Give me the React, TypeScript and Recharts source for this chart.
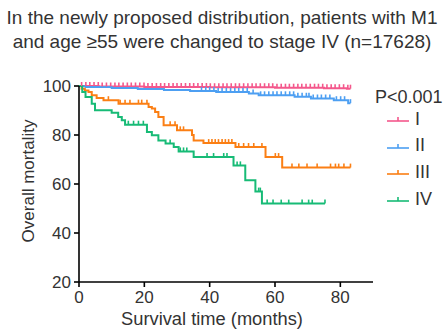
import { ComposedChart, Line, XAxis, YAxis } from 'recharts'

const X_TICKS = [0, 20, 40, 60, 80]
const Y_TICKS = [20, 40, 60, 80, 100]

// steps: [month, survival %] where the curve drops
const STEPS_I: [number, number][] = [
  [0, 100], [6, 99.8], [20, 99.6], [40, 99.5], [60, 99.3], [75, 99.1], [82, 98.9],
]
const STEPS_II: [number, number][] = [
  [0, 100], [2, 99.6], [10, 99.2], [18, 98.8], [26, 98.4], [34, 98.0], [42, 97.6],
  [52, 96.9], [55, 96.2], [66, 95.6], [71, 94.9], [78, 94.2], [82.4, 93.0],
]
const STEPS_III: [number, number][] = [
  [0, 100], [0.8, 98.9], [1.8, 98.2], [2.9, 97.6], [3.9, 96.2], [5.4, 95.1], [7.5, 94.2],
  [12.1, 92.8], [21.3, 91.4], [22.3, 90.8], [23.3, 89.4], [24.3, 87.3], [25.9, 84.0],
  [30, 81.9], [34.6, 80.0], [35.1, 77.8], [38.1, 76.7], [47.9, 75.1], [57.1, 71.0],
  [62.2, 66.7],
]
const STEPS_IV: [number, number][] = [
  [0, 100], [1, 97.6], [2, 95.5], [3.9, 92.8], [4.9, 90.1], [10, 89.1], [12, 87.3],
  [13.1, 86.0], [14.1, 84.2], [20.8, 81.2], [22.3, 79.9], [24.3, 77.8], [26.5, 76.5],
  [29, 75.1], [30.5, 73.3], [35.1, 71.0], [47.3, 67.6], [50.9, 61.5], [54, 56.9],
  [56, 52.0],
]

// censor marks (months)
const CENSOR_I = [
  0.8, 2.1, 3.3, 4.6, 5.9, 7.1, 8.4, 9.7, 11.0, 12.2, 13.5, 14.8, 16.0, 17.3, 18.6, 19.9,
  21.1, 22.4, 23.7, 25.0, 26.2, 27.5, 28.8, 30.0, 31.3, 32.6, 33.9, 35.1, 36.4, 37.7, 39.0,
  40.2, 41.5, 42.8, 44.1, 45.3, 46.6, 47.9, 49.1, 50.4, 51.7, 53.0, 54.2, 55.5, 56.8, 58.1,
  59.3, 60.6, 61.9, 63.2, 64.4, 65.7, 67.0, 68.2, 69.5, 70.8, 72.1, 73.3, 74.6, 75.9, 77.2,
  78.4, 79.7, 81.0, 82.3, 83.1,
]
const CENSOR_II = [
  37.5, 38.8, 40.0, 41.3, 42.6, 43.8, 45.1, 46.4, 47.7, 48.9, 50.2, 51.5, 53.3, 55.6, 56.8,
  58.1, 59.4, 60.6, 61.9, 63.2, 64.5, 65.7, 67.0, 68.3, 69.6, 70.4, 71.7, 73.0, 74.2, 75.5,
  76.8, 78.8, 80.1, 81.3, 83.1,
]
const CENSOR_III = [
  9.0, 12.6, 14.1, 15.6, 18.2, 19.2, 20.8, 27.9, 29.4, 31.0, 32.0, 39.7, 40.7, 41.7, 42.7,
  43.8, 44.8, 45.8, 46.8, 48.9, 50.4, 51.9, 53.5, 56.0, 60.1, 61.1, 65.2, 67.3, 69.8, 72.9,
  77.0, 78.5, 79.5, 81.1, 83.1,
]
const CENSOR_IV = [
  15.1, 16.7, 18.2, 19.7, 27.9, 31.0, 32.0, 33.0, 39.2, 41.2, 44.3, 45.3, 48.4, 49.4, 55.0,
  55.5, 57.6, 59.4, 61.9, 64.2, 68.3, 70.3, 71.4, 75.3,
]

const SERIES = [
  { name: 'I', color: '#f4588c', steps: STEPS_I, censor: CENSOR_I },
  { name: 'II', color: '#4d9ff2', steps: STEPS_II, censor: CENSOR_II },
  { name: 'III', color: '#fb7f14', steps: STEPS_III, censor: CENSOR_III },
  { name: 'IV', color: '#17bb76', steps: STEPS_IV, censor: CENSOR_IV },
]

type Pt = { t: number; v: number; c: boolean }

function buildCurve(steps: [number, number][], censor: number[]): Pt[] {
  const pts: Pt[] = steps.map(([t, v]) => ({ t, v, c: false }))
  censor.forEach((t) => {
    let v = steps[0][1]
    steps.forEach(([st, sv]) => {
      if (st <= t) v = sv
    })
    pts.push({ t, v, c: true })
  })
  return pts.sort((a, b) => a.t - b.t)
}

const FONT = 'Liberation Sans, Arial, Helvetica, sans-serif'
const TEXT = '#333'

function CensorDot(props: any) {
  const { cx, cy, payload, stroke } = props
  if (!payload || !payload.c || cx == null || cy == null) return <g key={props.key} />
  return (
    <line key={props.key} x1={cx} x2={cx} y1={cy} y2={cy - 4} stroke={stroke} strokeWidth={1.6} />
  )
}

export default function App() {
  return (
    <div style={{ position: 'absolute', left: 0, top: 0, width: 444, height: 329, background: '#fff', fontFamily: FONT }}>
      <div
        style={{
          position: 'absolute', left: 0, top: 6, width: 444, textAlign: 'center',
          fontSize: 19, lineHeight: '24px', color: TEXT, whiteSpace: 'nowrap',
        }}
      >
        In the newly proposed distribution, patients with M1
        <br />
        and age ≥55 were changed to stage IV (n=17628)
      </div>

      <ComposedChart width={444} height={329} margin={{ top: 86, right: 71, bottom: 0, left: 19 }}>
        <XAxis
          type="number"
          dataKey="t"
          domain={[0, 90]}
          ticks={X_TICKS}
          allowDataOverflow
          height={47}
          stroke="#000"
          strokeWidth={1.6}
          tickSize={5}
          tickMargin={4}
          tick={{ fontSize: 17, fill: TEXT, fontFamily: FONT }}
          label={{
            content: () => (
              <text x={212} y={318} textAnchor="middle" dominantBaseline="central" fontSize={18.3} fill={TEXT} fontFamily={FONT}>
                Survival time (months)
              </text>
            ),
          }}
        />
        <YAxis
          type="number"
          domain={[20, 100]}
          ticks={Y_TICKS}
          width={60}
          stroke="#000"
          strokeWidth={1.6}
          tickSize={5}
          tickMargin={3}
          tick={{ fontSize: 17, fill: TEXT, fontFamily: FONT }}
          label={{
            content: () => (
              <text
                x={28}
                y={181}
                transform="rotate(-90, 28, 181)"
                textAnchor="middle"
                dominantBaseline="central"
                fontSize={17}
                fill={TEXT}
                fontFamily={FONT}
              >
                Overall mortality
              </text>
            ),
          }}
        />
        {SERIES.map((s) => (
          <Line
            key={s.name}
            data={buildCurve(s.steps, s.censor)}
            dataKey="v"
            type="stepAfter"
            stroke={s.color}
            strokeWidth={2}
            dot={<CensorDot />}
            activeDot={false}
            isAnimationActive={false}
          />
        ))}
      </ComposedChart>

      <div style={{ position: 'absolute', left: 375, top: 86, fontSize: 18, color: TEXT, lineHeight: '22px', whiteSpace: 'nowrap' }}>
        P&lt;0.001
      </div>
      {SERIES.map((s, i) => (
        <div
          key={s.name}
          style={{
            position: 'absolute', left: 387, top: 108 + i * 26.7, height: 22,
            display: 'flex', alignItems: 'center', fontSize: 18, color: TEXT,
          }}
        >
          <svg width={22} height={10} style={{ marginRight: 6 }}>
            <line x1={0} x2={22} y1={7} y2={7} stroke={s.color} strokeWidth={1.6} />
            <line x1={11} x2={11} y1={3} y2={7} stroke={s.color} strokeWidth={1.6} />
          </svg>
          {s.name}
        </div>
      ))}
    </div>
  )
}
